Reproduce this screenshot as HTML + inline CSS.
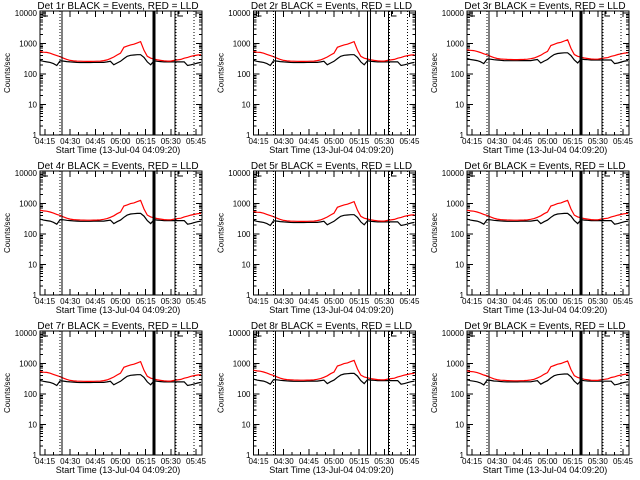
<!DOCTYPE html>
<html><head><meta charset="utf-8"><style>
html,body{margin:0;padding:0;background:#fff;}
svg{display:block;font-family:"Liberation Sans",sans-serif;}
</style></head><body>
<svg id="chart" width="640" height="480" viewBox="0 0 640 480" shape-rendering="crispEdges"></svg>
<script>
// minutes since midnight
const times=[252,254,256,258,260,262,264,266,268,270,272,274,276,278,280,282,284,286,288,290,292,294,296,298,300,302,304,306,308,310,312,314,316,318,320,322,324,326,328,330,332,334,336,338,340,342,344,346,348];
const redLLD=[550,520,510,480,440,400,370,330,300,280,270,265,262,260,258,258,260,262,265,275,290,320,360,420,480,750,820,900,950,1050,1150,600,380,330,310,290,280,270,265,265,280,290,300,330,350,380,400,420,430];
const blackEvents=[280,260,250,240,220,190,270,265,255,250,245,240,238,238,238,238,240,240,240,240,250,260,200,230,260,320,380,410,420,430,430,350,250,200,270,260,255,250,250,250,250,250,250,250,190,200,215,230,240];
const panelTitles=["Det 1r","Det 2r","Det 3r","Det 4r","Det 5r","Det 6r","Det 7r","Det 8r","Det 9r"];
const panelScale=[1,1,1.15,1.1,1,1.1,1,1.1,1.05];
const xTickLabels=["04:15","04:30","04:45","05:00","05:15","05:30","05:45"];
const xTickTimes=[255,270,285,300,315,330,345];
const yTickValues=[1,10,100,1000,10000];
const yTickLabels=["1","10","100","1000","10000"];
const solidLines=[265,320,332.5];
const dottedLines=[264.5,333,344];

const svg=document.getElementById('chart');
const NS='http://www.w3.org/2000/svg';
function mk(tag,attrs,parent){const e=document.createElementNS(NS,tag);for(const k in attrs)e.setAttribute(k,attrs[k]);parent.appendChild(e);return e;}
const L=40,R=202,T=11,B=135,T0=252,T1=348.6;
function xs(t){return L+(t-T0)/(T1-T0)*(R-L);}
function ys(v){return B-(Math.log10(v))/4*(B-T-2)-0;}

for(let p=0;p<9;p++){
  const ox=(p%3)*213.5, oy=Math.floor(p/3)*160;
  const g=mk('g',{transform:`translate(${ox},${oy})`},svg);
  
  
  const title=mk('text',{x:118,y:9,'font-size':10,'text-anchor':'middle',fill:'#000'},g);
  title.textContent=panelTitles[p]+" BLACK = Events, RED = LLD";
  
  
  const frame=mk('rect',{x:L,y:T,width:R-L,height:B-T,fill:'none',stroke:'#000','stroke-width':1},g);
  
  
  // y ticks
  for(let d=0;d<5;d++){
    const y=ys(yTickValues[d]);
    mk('line',{x1:L,x2:L+6,y1:y,y2:y,stroke:'#000'},g);
    mk('line',{x1:R-6,x2:R,y1:y,y2:y,stroke:'#000'},g);
    const t=mk('text',{x:L-3,y:y+3,'font-size':8,'text-anchor':'end',fill:'#000'},g);
    t.textContent=yTickLabels[d];
    
    
    if(d<4)for(let m=2;m<10;m++){const ym=ys(yTickValues[d]*m);
      mk('line',{x1:L,x2:L+3,y1:ym,y2:ym,stroke:'#000'},g);
      mk('line',{x1:R-3,x2:R,y1:ym,y2:ym,stroke:'#000'},g);}
  }
  // x ticks
  for(let i=0;i<xTickTimes.length;i++){
    const x=xs(xTickTimes[i]);
    mk('line',{x1:x,x2:x,y1:B,y2:B-6,stroke:'#000'},g);
    mk('line',{x1:x,x2:x,y1:T,y2:T+6,stroke:'#000'},g);
    const t=mk('text',{x:x,y:B+9,'font-size':8,'text-anchor':'middle',fill:'#000'},g);
    t.textContent=xTickLabels[i];
    
    
  }
  for(let tm=255;tm<349;tm+=5){const x=xs(tm);
    mk('line',{x1:x,x2:x,y1:B,y2:B-3,stroke:'#000'},g);
    mk('line',{x1:x,x2:x,y1:T,y2:T+3,stroke:'#000'},g);}
  const xt=mk('text',{x:118,y:153,'font-size':9,'text-anchor':'middle',fill:'#000'},g);
  xt.textContent="Start Time (13-Jul-04 04:09:20)";
  
  
  const yt=mk('text',{x:0,y:0,'font-size':8,'text-anchor':'middle',fill:'#000',transform:'translate(10,73) rotate(-90)'},g);
  yt.textContent="Counts/sec";
  
  
  // markers
  mk('polyline',{points:`${L+3},${T} ${L+3},${T+5} ${L+8},${T+5}`,fill:'none',stroke:'#000'},g);
  mk('polyline',{points:`${178},${T} ${178},${T+5} ${183},${T+5}`,fill:'none',stroke:'#000'},g);
  mk('line',{x1:157,x2:157,y1:T-2,y2:T+3,stroke:'#000'},g);
  // series
  const sc=panelScale[p];
  const rp=times.map((t,i)=>xs(t).toFixed(1)+','+ys(redLLD[i]*sc).toFixed(1)).join(' ');
  const bp=times.map((t,i)=>xs(t).toFixed(1)+','+ys(blackEvents[i]*sc).toFixed(1)).join(' ');
  const bl=mk('polyline',{points:bp,fill:'none',stroke:'#000','stroke-width':1.2,'shape-rendering':'auto'},g);
  
  
  const rl=mk('polyline',{points:rp,fill:'none',stroke:'#f00','stroke-width':1.2,'shape-rendering':'auto'},g);
  
  
  // vertical lines
  solidLines.forEach((t,i)=>{
    const x=Math.round(xs(t));
    const w=(i===1 && p!==1 && p!==4 && p!==7)?3:1;
    mk('line',{x1:x,x2:x,y1:T,y2:B,stroke:'#000','stroke-width':w},g);
    if(i===1 && (p===1||p===4||p===7)) mk('line',{x1:x+3,x2:x+3,y1:T,y2:B,stroke:'#000'},g);
  });
  dottedLines.forEach(t=>{
    const x=Math.round(xs(t))-(t<300?1:0);
    mk('line',{x1:x,x2:x,y1:T,y2:B,stroke:'#000','stroke-dasharray':'1,2'},g);
  });
}
</script>
</body></html>
